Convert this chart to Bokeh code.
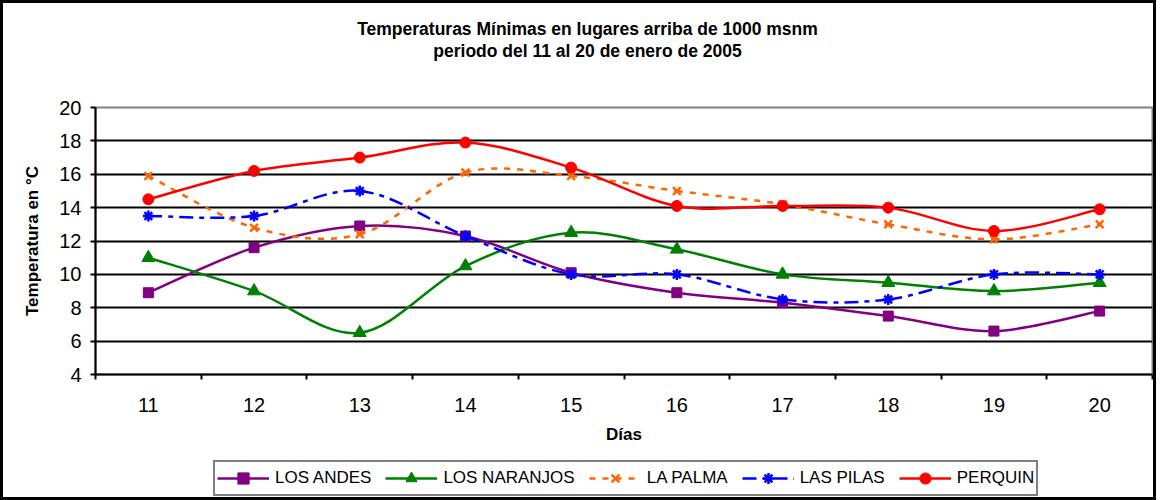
from bokeh.plotting import figure
from bokeh.layouts import column
from bokeh.models import (FixedTicker, Legend, LegendItem, Range1d,
                          ColumnDataSource, Label)
from bokeh.embed import file_html
from bokeh.resources import INLINE

# ---------------- data ----------------
days = [11, 12, 13, 14, 15, 16, 17, 18, 19, 20]
los_andes = [8.9, 11.6, 12.9, 12.3, 10.1, 8.9, 8.3, 7.5, 6.6, 7.8]
los_naranjos = [11.0, 9.0, 6.5, 10.5, 12.5, 11.5, 10.0, 9.5, 9.0, 9.5]
la_palma = [15.9, 12.8, 12.4, 16.1, 15.9, 15.0, 14.2, 13.0, 12.1, 13.0]
las_pilas = [13.5, 13.5, 15.0, 12.3, 10.0, 10.0, 8.5, 8.5, 10.0, 10.0]
perquin = [14.5, 16.2, 17.0, 17.9, 16.4, 14.1, 14.1, 14.0, 12.6, 13.9]
y_ticks = [4, 6, 8, 10, 12, 14, 16, 18, 20]

series_names = ["LOS ANDES", "LOS NARANJOS", "LA PALMA", "LAS PILAS", "PERQUIN"]
title_line1 = "Temperaturas Mínimas en lugares arriba de 1000 msnm"
title_line2 = "periodo del 11 al 20 de enero de 2005"
x_title = "Días"
y_title = "Temperatura en °C"

FONT = "Liberation Sans"
BORDER = "3px solid black"
# shared horizontal geometry of the three stacked figures (canvas 1150 px wide)
FL, FW, FR = 92, 1057, 1

# ---------------- title strip ----------------
HT = 64
t = figure(frame_width=FW, frame_height=HT, output_backend="svg", toolbar_location=None,
           x_range=Range1d(FL, FL + FW), y_range=Range1d(HT, 0),
           min_border_left=FL, min_border_right=FR, min_border_top=0, min_border_bottom=0,
           x_axis_location=None, y_axis_location=None)
t.grid.visible = False
t.outline_line_color = None
for txt, yy in ((title_line1, 25), (title_line2, 47)):
    t.add_layout(Label(x=584, y=yy, text=txt, text_align="center",
                       text_baseline="middle", text_font=FONT,
                       text_font_size="17.5px", text_font_style="bold",
                       text_color="black"))

# ---------------- main chart ----------------
p = figure(frame_width=FW, frame_height=267, output_backend="svg",
           toolbar_location=None,
           x_range=Range1d(days[0] - 0.5, days[-1] + 0.5),
           y_range=Range1d(y_ticks[0], y_ticks[-1]),
           min_border_left=FL, min_border_right=FR, min_border_top=40,
           min_border_bottom=81)
p.background_fill_color = "white"
p.border_fill_color = "white"
p.outline_line_color = "#808080"
p.outline_line_width = 2

p.yaxis.ticker = FixedTicker(ticks=y_ticks)
p.yaxis.axis_line_color = "black"
p.yaxis.axis_line_width = 2
p.yaxis.major_tick_line_color = "black"
p.yaxis.major_tick_line_width = 2
p.yaxis.major_tick_in = 0
p.yaxis.major_tick_out = 5
p.yaxis.minor_tick_line_color = None
p.yaxis.major_label_standoff = 9
p.yaxis.major_label_text_font = FONT
p.yaxis.major_label_text_font_size = "20px"
p.yaxis.major_label_text_color = "black"
p.yaxis.axis_label = y_title
p.yaxis.axis_label_text_font = FONT
p.yaxis.axis_label_text_font_size = "17px"
p.yaxis.axis_label_text_font_style = "bold"
p.yaxis.axis_label_text_color = "black"
p.yaxis.axis_label_standoff = 14

boundaries = [d - 0.5 for d in days] + [days[-1] + 0.5]
p.xaxis.ticker = FixedTicker(ticks=days, minor_ticks=boundaries)
p.xaxis.axis_line_color = "black"
p.xaxis.axis_line_width = 2
p.xaxis.major_tick_line_color = None
p.xaxis.major_tick_in = 0
p.xaxis.major_tick_out = 0
p.xaxis.minor_tick_line_color = "black"
p.xaxis.minor_tick_line_width = 2
p.xaxis.minor_tick_in = 0
p.xaxis.minor_tick_out = 5
p.xaxis.major_label_standoff = 18
p.xaxis.major_label_text_font = FONT
p.xaxis.major_label_text_font_size = "20px"
p.xaxis.major_label_text_color = "black"
p.xaxis.axis_label = x_title
p.xaxis.axis_label_text_font = FONT
p.xaxis.axis_label_text_font_size = "17px"
p.xaxis.axis_label_text_font_style = "bold"
p.xaxis.axis_label_text_color = "black"
p.xaxis.axis_label_standoff = 10

p.xgrid.visible = False
p.ygrid.ticker = FixedTicker(ticks=y_ticks[1:-1])
p.ygrid.grid_line_color = "black"
p.ygrid.grid_line_width = 2


# ---------------- smoothed lines (Bezier segments through the data) ----------------
def bezier_source(xs, ys):
    n = len(xs)
    d = dict(x0=[], y0=[], x1=[], y1=[], cx0=[], cy0=[], cx1=[], cy1=[])
    for i in range(n - 1):
        im = i - 1 if i > 0 else i
        ip = i + 2 if i + 2 < n else i + 1
        d["x0"].append(xs[i]); d["y0"].append(ys[i])
        d["x1"].append(xs[i + 1]); d["y1"].append(ys[i + 1])
        d["cx0"].append(xs[i] + (xs[i + 1] - xs[im]) / 6.0)
        d["cy0"].append(ys[i] + (ys[i + 1] - ys[im]) / 6.0)
        d["cx1"].append(xs[i + 1] - (xs[ip] - xs[i]) / 6.0)
        d["cy1"].append(ys[i + 1] - (ys[ip] - ys[i]) / 6.0)
    return ColumnDataSource(d)


styles = [
    dict(vals=los_andes, color="#800080", dash="solid", marker="square", size=10, mlw=1),
    dict(vals=los_naranjos, color="#008000", dash="solid", marker="triangle", size=13, mlw=1),
    dict(vals=la_palma, color="#FF6600", dash="6 7", marker="x", size=11, mlw=2.5),
    dict(vals=las_pilas, color="#0000FF", dash="14 6 5 6", marker="asterisk", size=11, mlw=2.5),
    dict(vals=perquin, color="#FF0000", dash="solid", marker="circle", size=11, mlw=1),
]

# ---------------- legend strip ----------------
HL = 42
lg = figure(frame_width=FW, frame_height=HL, output_backend="svg", toolbar_location=None,
            x_range=Range1d(0, 1), y_range=Range1d(0, 1),
            min_border_left=FL, min_border_right=FR, min_border_top=0, min_border_bottom=0,
            x_axis_location=None, y_axis_location=None)
lg.grid.visible = False
lg.outline_line_color = None

items = []
for name, st in zip(series_names, styles):
    src = bezier_source(days, st["vals"])
    line_kw = dict(x0="x0", y0="y0", x1="x1", y1="y1", cx0="cx0", cy0="cy0",
                   cx1="cx1", cy1="cy1", source=src, line_color=st["color"],
                   line_width=2.5, line_dash=st["dash"])
    mk_kw = dict(x=days, y=st["vals"], marker=st["marker"], size=st["size"],
                 fill_color=st["color"], line_color=st["color"], line_width=st["mlw"])
    p.bezier(**line_kw)
    p.scatter(**mk_kw)
    # same series in the legend strip (outside its range) so the legend can sample them
    br = lg.bezier(**line_kw)
    sr = lg.scatter(**mk_kw)
    items.append(LegendItem(label=name, renderers=[br, sr]))

legend = Legend(items=items, orientation="horizontal", location=(118, 1))
legend.label_text_font = FONT
legend.label_text_font_size = "17px"
legend.label_text_color = "black"
legend.border_line_color = "black"
legend.border_line_width = 2
legend.padding = 2
legend.spacing = 14
legend.label_standoff = 6
legend.glyph_width = 52
legend.glyph_height = 28
legend.margin = 0
legend.background_fill_color = "white"
lg.add_layout(legend, "center")

layout = column(t, p, lg, spacing=0)
layout.styles = {"border": BORDER}
open("out.html", "w").write(file_html(layout, INLINE))
